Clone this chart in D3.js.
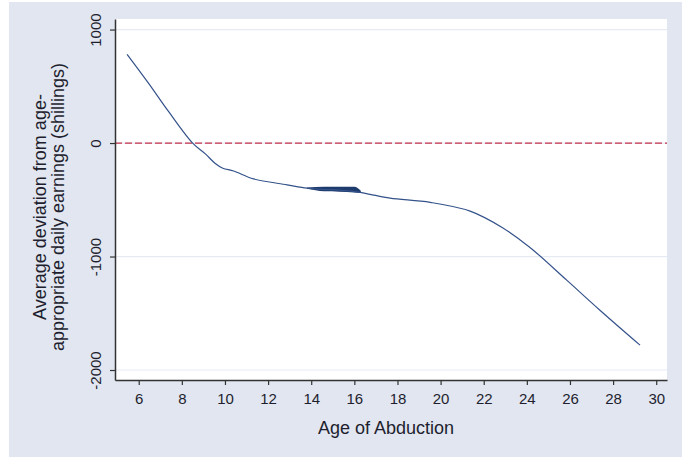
<!DOCTYPE html>
<html>
<head>
<meta charset="utf-8">
<script src="https://cdn.jsdelivr.net/npm/d3@7"></script>
<style>
html,body{margin:0;padding:0;background:#fff;}
svg{display:block;}
text{font-family:Arial,"Liberation Sans",sans-serif;}
</style>
</head>
<body>
<svg id="chart" width="682" height="457"></svg>
<script>
// ---- data ----
const ages   = [5.46, 6.46, 7.39, 8.5, 9.09, 9.55, 9.9, 10.4, 11.33, 12.88, 13.8, 14.5, 15.3, 16.27, 16.73, 17.66, 19.52, 21.37, 22.91, 23.69, 24.3, 25.85, 27.39, 29.25];
const values = [782, 526, 276, 0, -95, -180, -222, -246, -316, -368, -398, -408, -415, -435, -452, -486, -523, -600, -750, -855, -944, -1208, -1473, -1781];
const bandAges = [13.8, 14.6, 16.0, 16.3];
const bandHi   = [-392, -386, -386, -420];
const bandLo   = [-402, -425, -435, -440];
const xTicks = [6, 8, 10, 12, 14, 16, 18, 20, 22, 24, 26, 28, 30];
const yTicks = [-2000, -1000, 0, 1000];
const refLine = 0;
const xTitle = "Age of Abduction";
const yTitle = ["Average deviation from age-", "appropriate daily earnings (shillings)"];

// ---- layout ----
const svg = d3.select("#chart");
const W = 682, H = 457;
const L = 115, R = 667, T = 19, B = 380;

svg.append("rect").attr("x", 9).attr("y", 2).attr("width", W - 9).attr("height", H - 2).attr("fill", "#e1e6f0");
svg.append("rect").attr("x", L).attr("y", T).attr("width", R - L).attr("height", B - T).attr("fill", "#ffffff");

const x = d3.scaleLinear().domain([4.9, 30.5]).range([L, R]);
const y = d3.scaleLinear().domain([-2088, 1093]).range([B, T]);

// gridlines
svg.append("g").selectAll("line").data(yTicks).join("line")
  .attr("x1", L).attr("x2", R)
  .attr("y1", d => y(d)).attr("y2", d => y(d))
  .attr("stroke", "#e6ebf3").attr("stroke-width", 1.2);

// reference dashed line
svg.append("line")
  .attr("x1", L).attr("x2", R)
  .attr("y1", y(refLine)).attr("y2", y(refLine))
  .attr("stroke", "#c4304c").attr("stroke-width", 1.2)
  .attr("stroke-dasharray", "7,3");

// band
const bandData = bandAges.map((a, i) => ({a, hi: bandHi[i], lo: bandLo[i]}));
svg.append("path").datum(bandData)
  .attr("d", d3.area().x(d => x(d.a)).y0(d => y(d.lo)).y1(d => y(d.hi)).curve(d3.curveMonotoneX))
  .attr("fill", "#1e3b6e");

// line
const lineData = ages.map((a, i) => ({a, v: values[i]}));
svg.append("path").datum(lineData)
  .attr("d", d3.line().x(d => x(d.a)).y(d => y(d.v)).curve(d3.curveCatmullRom.alpha(0.5)))
  .attr("fill", "none").attr("stroke", "#34528a").attr("stroke-width", 1.2);

// axes
const fmt = d => String(d);
const xAxis = svg.append("g").attr("transform", `translate(0,${B})`)
  .call(d3.axisBottom(x).tickValues(xTicks).tickFormat(fmt).tickSize(5).tickPadding(8).tickSizeOuter(0));
xAxis.select(".domain").attr("stroke", "#333").attr("stroke-width", 1.5);
xAxis.selectAll(".tick line").attr("stroke", "#333").attr("stroke-width", 1.2);
xAxis.selectAll(".tick text").attr("font-size", 15).attr("fill", "#1e1e2e")
  .attr("font-family", "Arial, 'Liberation Sans', sans-serif");

const yAxis = svg.append("g").attr("transform", `translate(${L},0)`)
  .call(d3.axisLeft(y).tickValues(yTicks).tickFormat(fmt).tickSize(5).tickSizeOuter(0));
yAxis.select(".domain").attr("stroke", "#333").attr("stroke-width", 1.5);
yAxis.selectAll(".tick line").attr("stroke", "#333").attr("stroke-width", 1.2);
yAxis.selectAll(".tick text")
  .attr("font-size", 15).attr("fill", "#1e1e2e")
  .attr("font-family", "Arial, 'Liberation Sans', sans-serif")
  .attr("x", null)
  .attr("text-anchor", "middle")
  .attr("transform", "translate(-14,0) rotate(-90)")
  .attr("dy", "0");

// titles
svg.append("text").attr("x", (L + R) / 2 - 5).attr("y", 434)
  .attr("text-anchor", "middle").attr("font-size", 18).attr("fill", "#1e1e2e").text(xTitle);

const yt = svg.append("text").attr("transform", "translate(46,207) rotate(-90)")
  .attr("text-anchor", "middle").attr("font-size", 18).attr("fill", "#1e1e2e");
yTitle.forEach((t, i) => yt.append("tspan").attr("x", 0).attr("dy", i === 0 ? 0 : 18).text(t));
</script>
</body>
</html>
